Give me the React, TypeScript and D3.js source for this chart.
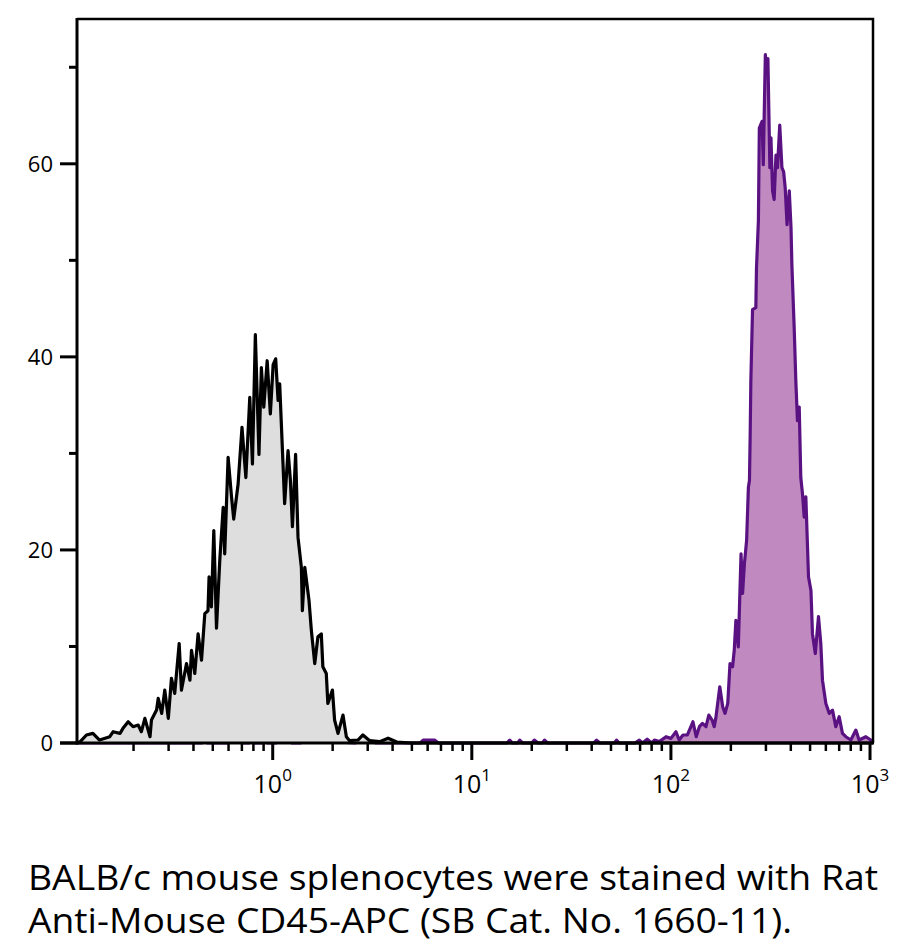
import React from 'react';
import * as d3 from 'd3';

// isotype control (black / gray)
const controlX = [
  0.104, 0.108, 0.116, 0.125, 0.135, 0.152, 0.158, 0.171, 0.177, 0.188, 0.199, 0.211, 0.219,
  0.228, 0.242, 0.246, 0.261, 0.266, 0.277, 0.287, 0.299, 0.31, 0.322, 0.339, 0.348, 0.369,
  0.384, 0.391, 0.406, 0.422, 0.439, 0.456, 0.473, 0.479, 0.492, 0.506, 0.522, 0.542, 0.564,
  0.574, 0.597, 0.621, 0.637, 0.67, 0.701, 0.733, 0.767, 0.791, 0.818, 0.853, 0.877, 0.902,
  0.938, 0.973, 1.005, 1.035, 1.064, 1.084, 1.148, 1.194, 1.227, 1.256, 1.303, 1.34, 1.393,
  1.409, 1.449, 1.521, 1.563, 1.626, 1.687, 1.754, 1.786, 1.858, 1.892, 1.995, 2.046, 2.128,
  2.254, 2.344, 2.432, 2.679, 2.838, 3.069, 3.443, 3.8, 4.2, 5, 1035,
];
const controlY = [
  0, 0.14, 0.83, 1.0, 0.31, 0.65, 1.17, 1.0, 1.52, 2.2, 1.69, 1.86, 1.17,
  2.55, 0.65, 2.38, 3.41, 4.62, 3.07, 5.48, 2.55, 6.69, 5.13, 10.3, 5.48, 8.23,
  6.51, 9.61, 7.2, 11.3, 8.58, 13.4, 13.7, 17.2, 14.1, 22.0, 11.9, 18.9, 24.4,
  19.6, 29.6, 25.5, 23.2, 26.8, 32.7, 27.5, 35.8, 28.9, 42.3, 29.9, 38.9, 34.8,
  39.6, 34.1, 39.2, 39.8, 35.5, 37.2, 24.8, 30.3, 27.2, 22.4, 29.9, 21.3, 18.2,
  13.7, 18.2, 14.8, 11.7, 8.23, 11.0, 11.3, 7.89, 7.2, 4.1, 5.48, 2.38, 1.0,
  2.89, 0.65, 0.24, 0.31, 0.83, 0.24, 0.14, 0.5, 0.1, 0, 0,
];

// CD45-APC stained (purple)
const stainedX = [
  0.104, 0.44, 0.456, 0.47, 0.6, 0.62, 0.68, 0.7, 0.76, 0.78, 0.8, 0.88, 0.91, 0.94,
  1.04, 1.06, 1.2, 1.25, 1.38, 1.42, 2.6, 2.7, 3.0, 3.3, 3.5, 5.5, 5.7, 6.5, 6.8,
  15, 15.5, 16, 17, 17.4, 18, 20, 20.6, 21.5, 22.6, 23.2, 24, 41, 42.3, 44, 52, 53.3, 55,
  66, 69.4, 72, 76, 80, 82.6,
  87.5, 94.5, 100, 106, 110, 115, 121, 129, 134, 139, 144, 150, 155, 161, 165, 168,
  176, 182, 187, 193, 198, 204, 208, 212, 218, 225, 229, 234, 240, 245, 248, 250,
  252, 257, 267, 269, 275, 278, 287, 291, 298, 304, 307, 314, 318, 324, 330, 337,
  343, 352, 361, 368, 375, 383, 393, 401, 405, 416, 424, 432, 441, 449, 458, 467,
  476, 491, 505, 514, 531, 551, 566, 577, 600, 624, 648, 673, 700, 727, 756, 801,
  849, 881, 953, 1009, 1035,
];
const stainedY = [
  0, 0, 0.3, 0, 0, 0.3, 0.3, 0, 0, 0.3, 0, 0, 0.3, 0,
  0, 0.3, 0.3, 0, 0, 0.3, 0, 0.3, 0.3, 0, 0, 0, 0.3, 0.3, 0,
  0, 0.3, 0, 0, 0.3, 0, 0, 0.3, 0, 0, 0.3, 0, 0, 0.3, 0, 0, 0.3, 0,
  0, 0.3, 0, 0.4, 0, 0.3,
  0.14, 0.65, 0.48, 1.17, 0.31, 0.83, 0.83, 2.2, 0.65, 1.69, 2.03, 1.69, 2.89, 2.38, 1.69, 2.55,
  5.82, 3.75, 3.07, 4.1, 8.23, 7.89, 9.61, 12.7, 9.96, 19.6, 15.5, 18.6, 21.0, 26.5, 27.2, 31.7,
  37.5, 44.9, 45.1, 49.2, 54.1, 63.7, 64.4, 59.9, 71.3, 69.4, 70.9, 59.6, 62.7, 57.2, 56.3, 60.9,
  59.6, 64.0, 59.6, 59.2, 57.5, 53.7, 57.2, 53.4, 49.6, 43.0, 37.5, 33.4, 34.8, 27.5, 25.8, 23.4,
  25.5, 17.2, 15.8, 11.3, 9.27, 13.1, 10.3, 6.51, 4.1, 3.07, 3.41, 1.69, 2.72, 1.0, 0.65, 0.31,
  1.34, 0.31, 0.65, 0.31, 0,
];

const yMajor = [0, 20, 40, 60];
const yMinor = [10, 30, 50, 70];
const xMajor = [1, 10, 100, 1000];
const xMajorExp = ['0', '1', '2', '3'];
const captionLines = [
  'BALB/c mouse splenocytes were stained with Rat',
  'Anti-Mouse CD45-APC (SB Cat. No. 1660-11).',
];

const width = 903;
const height = 943;
const left = 77;
const right = 873;
const top = 19;
const bottom = 743;

export default function App() {
  const x = d3.scaleLog().domain([0.104, 1035]).range([left, right]);
  const y = d3.scaleLinear().domain([0, 75]).range([bottom, top]);

  const xMinor: number[] = [];
  [0.1, 1, 10, 100].forEach((d) => {
    for (let k = 2; k <= 9; k++) xMinor.push(d * k);
  });

  const area = d3.area<[number, number]>()
    .x((d) => x(d[0]))
    .y0(y(0))
    .y1((d) => y(d[1]));
  const line = d3.line<[number, number]>()
    .x((d) => x(d[0]))
    .y((d) => y(d[1]));

  const control = controlX.map((v, i) => [v, controlY[i]] as [number, number]);
  const stained = stainedX.map((v, i) => [v, stainedY[i]] as [number, number]);

  const font = '"Open Sans", "DejaVu Sans", sans-serif';

  return (
    <svg width={width} height={height} style={{ position: 'absolute', left: 0, top: 0, background: '#fff' }}>
      <path d={area(stained) ?? ''} fill="#c08ac1" />
      <path d={line(stained) ?? ''} fill="none" stroke="#5a1283" strokeWidth={3.2} strokeLinejoin="round" />
      <path d={area(control) ?? ''} fill="#dedede" />
      <path d={line(control) ?? ''} fill="none" stroke="#000" strokeWidth={3.2} strokeLinejoin="round" />

      {/* frame */}
      <path d={`M${left},${top}H${right}V${bottom}`} fill="none" stroke="#000" strokeWidth={2.5} />
      <line x1={left} x2={left} y1={top - 1} y2={bottom + 1.5} stroke="#000" strokeWidth={3} />
      <line x1={left - 17} x2={right + 1} y1={bottom} y2={bottom} stroke="#000" strokeWidth={3} />

      {/* y axis */}
      {yMajor.map((v) => (
        <g key={`ym${v}`}>
          <line x1={left - 17} x2={left} y1={y(v)} y2={y(v)} stroke="#000" strokeWidth={3} />
          <text x={53} y={y(v)} dy="0.36em" textAnchor="end" fontSize={22} fontFamily={font}>{v}</text>
        </g>
      ))}
      {yMinor.map((v) => (
        <line key={`yn${v}`} x1={left - 8} x2={left} y1={y(v)} y2={y(v)} stroke="#000" strokeWidth={3} />
      ))}

      {/* x axis */}
      {xMinor.filter((v) => x(v) > left + 2 && x(v) < right).map((v) => (
        <line key={`xn${v}`} x1={x(v)} x2={x(v)} y1={bottom} y2={bottom + 8} stroke="#000" strokeWidth={2.5} />
      ))}
      {xMajor.map((v, i) => (
        <g key={`xm${v}`}>
          <line x1={x(v)} x2={x(v)} y1={bottom} y2={bottom + 17} stroke="#000" strokeWidth={3} />
          <text x={x(v)} y={793} textAnchor="middle" fontSize={25} fontFamily={font}>
            10<tspan fontSize={17} dy={-12}>{xMajorExp[i]}</tspan>
          </text>
        </g>
      ))}

      {/* caption */}
      <text x={28} y={890} fontSize={35} fontFamily={font} textLength={850} lengthAdjust="spacingAndGlyphs">
        {captionLines[0]}
      </text>
      <text x={28} y={933} fontSize={35} fontFamily={font} textLength={764} lengthAdjust="spacingAndGlyphs">
        {captionLines[1]}
      </text>
    </svg>
  );
}
